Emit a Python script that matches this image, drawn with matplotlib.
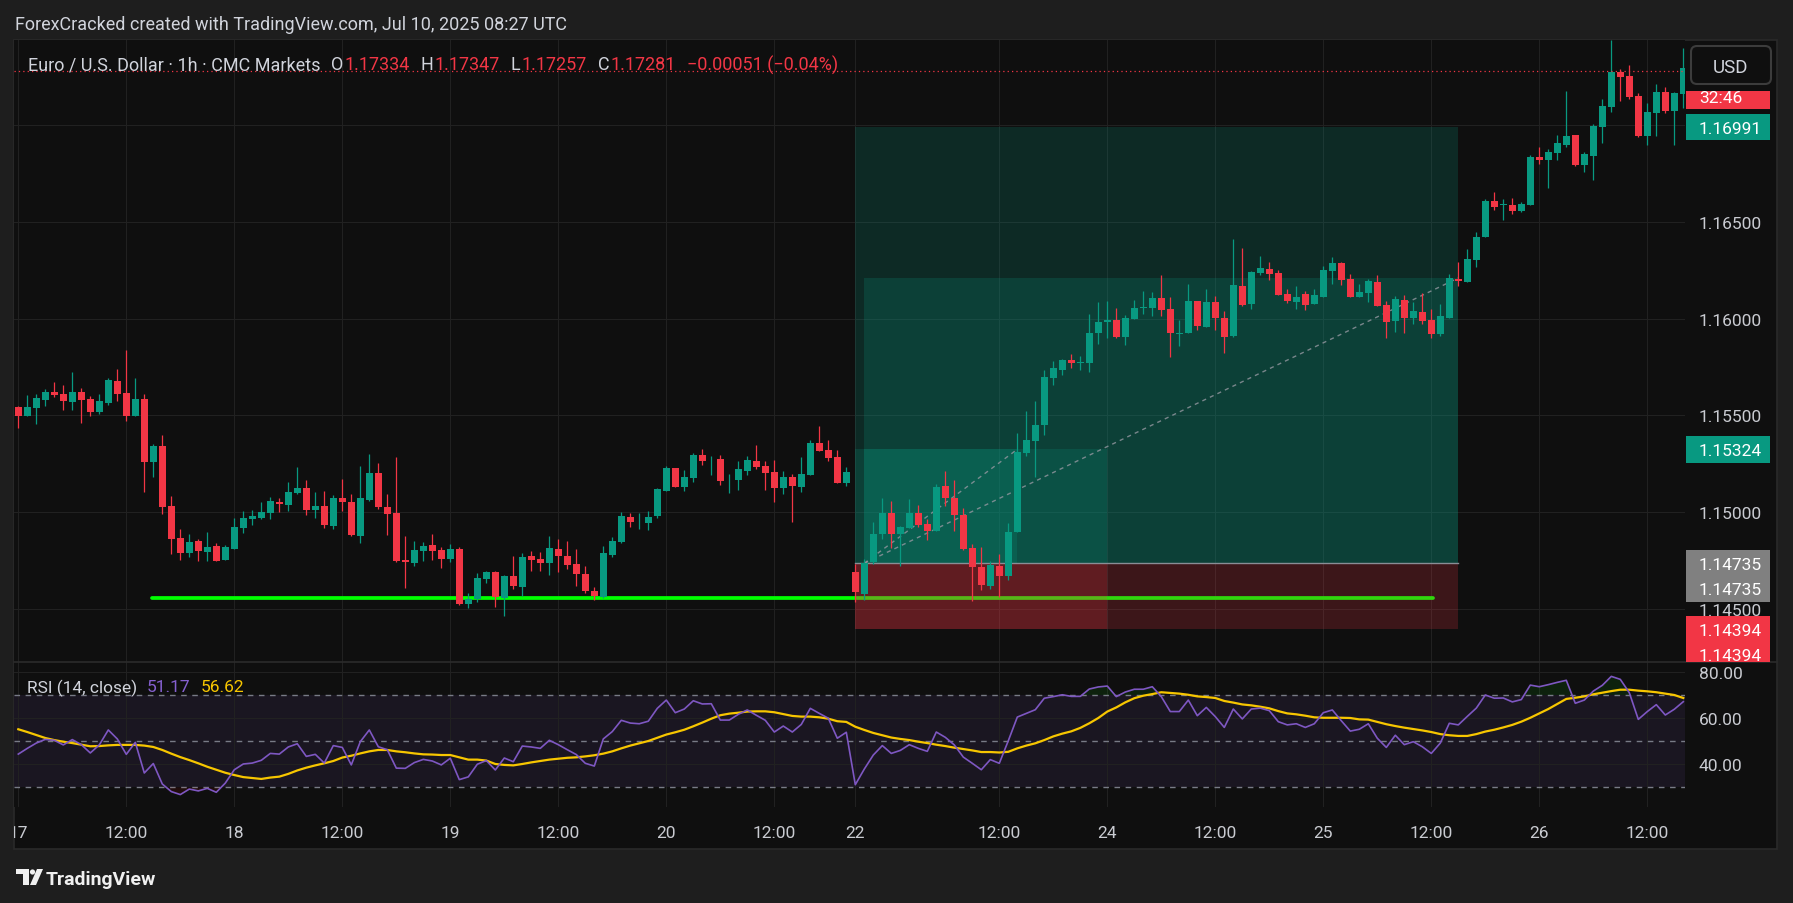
import numpy as np
import matplotlib
matplotlib.use("Agg")
import matplotlib.pyplot as plt
from matplotlib.patches import Rectangle, FancyBboxPatch, Polygon, Circle
from matplotlib.lines import Line2D
from matplotlib.transforms import Affine2D

plt.rcParams['font.family'] = ['Roboto', 'DejaVu Sans']

# ---------------- data (EURUSD 1h, CMC Markets) ----------------
opens = [
    1.15545, 1.15498, 1.15540, 1.15581, 1.15622, 1.15612, 1.15571, 1.15622, 1.15586, 1.15519,
    1.15566, 1.15679, 1.15617, 1.15498, 1.15586, 1.15260, 1.15343, 1.15033, 1.14867, 1.14790,
    1.14852, 1.14795, 1.14826, 1.14753, 1.14810, 1.14919, 1.14966, 1.14971, 1.14997, 1.15053,
    1.15038, 1.15100, 1.15126, 1.15012, 1.15033, 1.14929, 1.15074, 1.15053, 1.14878, 1.15064,
    1.15203, 1.15028, 1.14997, 1.14753, 1.14738, 1.14800, 1.14831, 1.14805, 1.14759, 1.14810,
    1.14526, 1.14552, 1.14655, 1.14691, 1.14557, 1.14671, 1.14614, 1.14774, 1.14759, 1.14738,
    1.14810, 1.14774, 1.14733, 1.14681, 1.14593, 1.14562, 1.14779, 1.14847, 1.14976, 1.14952,
    1.14945, 1.14981, 1.15110, 1.15229, 1.15131, 1.15178, 1.15297, 1.15272, 1.15276, 1.15164,
    1.15167, 1.15214, 1.15266, 1.15240, 1.15209, 1.15126, 1.15183, 1.15131, 1.15193, 1.15359,
    1.15322, 1.15286, 1.15152, 1.14691, 1.14577, 1.14744, 1.14887, 1.14995, 1.14887, 1.14919,
    1.14995, 1.14938, 1.14904, 1.15134, 1.15072, 1.14984, 1.14814, 1.14718, 1.14619, 1.14721,
    1.14671, 1.14894, 1.15307, 1.15369, 1.15451, 1.15695, 1.15736, 1.15786, 1.15771, 1.15768,
    1.15923, 1.15983, 1.15992, 1.15905, 1.15999, 1.16056, 1.16056, 1.16107, 1.16049, 1.15918,
    1.15923, 1.16091, 1.15959, 1.16087, 1.16003, 1.15911, 1.16169, 1.16078, 1.16238, 1.16256,
    1.16236, 1.16128, 1.16088, 1.16128, 1.16078, 1.16113, 1.16248, 1.16287, 1.16205, 1.16113,
    1.16132, 1.16189, 1.16069, 1.15988, 1.16096, 1.16003, 1.16034, 1.15993, 1.15920, 1.16005,
    1.16205, 1.16189, 1.16305, 1.16422, 1.16608, 1.16586, 1.16587, 1.16556, 1.16587, 1.16836,
    1.16822, 1.16858, 1.16898, 1.16949, 1.16794, 1.16841, 1.16991, 1.17094, 1.17275, 1.17254,
    1.17151, 1.16944, 1.17063, 1.17172, 1.17073, 1.17161,
]
highs = [
    1.15548, 1.15607, 1.15612, 1.15638, 1.15674, 1.15659, 1.15726, 1.15643, 1.15602, 1.15612,
    1.15695, 1.15741, 1.15840, 1.15695, 1.15612, 1.15353, 1.15400, 1.15084, 1.14914, 1.14888,
    1.14862, 1.14898, 1.14841, 1.14831, 1.14971, 1.15007, 1.15012, 1.15053, 1.15079, 1.15074,
    1.15157, 1.15234, 1.15167, 1.15105, 1.15110, 1.15090, 1.15172, 1.15095, 1.15240, 1.15302,
    1.15255, 1.15095, 1.15286, 1.14878, 1.14852, 1.14847, 1.14888, 1.14821, 1.14836, 1.14821,
    1.14583, 1.14686, 1.14697, 1.14697, 1.14676, 1.14774, 1.14790, 1.14800, 1.14795, 1.14878,
    1.14862, 1.14852, 1.14810, 1.14722, 1.14614, 1.14826, 1.14872, 1.15002, 1.14997, 1.14997,
    1.15007, 1.15126, 1.15240, 1.15229, 1.15219, 1.15307, 1.15328, 1.15291, 1.15297, 1.15198,
    1.15266, 1.15291, 1.15348, 1.15266, 1.15271, 1.15214, 1.15198, 1.15286, 1.15374, 1.15447,
    1.15374, 1.15322, 1.15234, 1.14732, 1.14759, 1.14949, 1.15073, 1.15057, 1.14928, 1.15068,
    1.15038, 1.14963, 1.15145, 1.15214, 1.15166, 1.15020, 1.14835, 1.14819, 1.14746, 1.14783,
    1.14944, 1.15408, 1.15522, 1.15574, 1.15734, 1.15780, 1.15791, 1.15816, 1.15807, 1.16024,
    1.16087, 1.16091, 1.16055, 1.16019, 1.16096, 1.16142, 1.16139, 1.16225, 1.16112, 1.15992,
    1.16179, 1.16091, 1.16153, 1.16117, 1.16039, 1.16411, 1.16365, 1.16247, 1.16324, 1.16293,
    1.16251, 1.16153, 1.16169, 1.16145, 1.16153, 1.16272, 1.16318, 1.16291, 1.16229, 1.16179,
    1.16205, 1.16225, 1.16091, 1.16117, 1.16122, 1.16084, 1.16132, 1.16050, 1.16075, 1.16231,
    1.16293, 1.16360, 1.16448, 1.16618, 1.16655, 1.16618, 1.16624, 1.16603, 1.16846, 1.16887,
    1.16877, 1.16949, 1.17177, 1.16949, 1.16861, 1.17006, 1.17135, 1.17441, 1.17291, 1.17311,
    1.17167, 1.17115, 1.17213, 1.17198, 1.17172, 1.17399,
]
lows = [
    1.15433, 1.15498, 1.15457, 1.15550, 1.15597, 1.15529, 1.15529, 1.15462, 1.15498, 1.15509,
    1.15555, 1.15576, 1.15472, 1.15498, 1.15105, 1.15183, 1.14991, 1.14784, 1.14753, 1.14769,
    1.14748, 1.14748, 1.14748, 1.14753, 1.14810, 1.14893, 1.14934, 1.14966, 1.14966, 1.15002,
    1.15007, 1.15095, 1.14986, 1.14971, 1.14919, 1.14914, 1.15007, 1.14878, 1.14841, 1.15059,
    1.15017, 1.14883, 1.14743, 1.14609, 1.14722, 1.14748, 1.14753, 1.14712, 1.14743, 1.14521,
    1.14505, 1.14536, 1.14634, 1.14510, 1.14464, 1.14603, 1.14567, 1.14697, 1.14697, 1.14676,
    1.14691, 1.14707, 1.14619, 1.14583, 1.14547, 1.14557, 1.14769, 1.14841, 1.14924, 1.14914,
    1.14909, 1.14971, 1.15110, 1.15131, 1.15110, 1.15157, 1.15245, 1.15193, 1.15141, 1.15100,
    1.15116, 1.15193, 1.15224, 1.15116, 1.15053, 1.15095, 1.14950, 1.15105, 1.15193, 1.15317,
    1.15266, 1.15152, 1.15136, 1.14533, 1.14545, 1.14732, 1.14861, 1.14812, 1.14723, 1.14919,
    1.14922, 1.14856, 1.14904, 1.15031, 1.14904, 1.14803, 1.14541, 1.14598, 1.14603, 1.14563,
    1.14650, 1.14894, 1.15287, 1.15183, 1.15400, 1.15659, 1.15706, 1.15747, 1.15736, 1.15725,
    1.15871, 1.15902, 1.15902, 1.15866, 1.15999, 1.16026, 1.16016, 1.16016, 1.15804, 1.15860,
    1.15923, 1.15943, 1.15959, 1.15943, 1.15820, 1.15907, 1.16065, 1.16051, 1.16225, 1.16197,
    1.16124, 1.16083, 1.16051, 1.16046, 1.16078, 1.16113, 1.16180, 1.16175, 1.16113, 1.16113,
    1.16084, 1.16067, 1.15901, 1.15932, 1.15927, 1.15972, 1.15972, 1.15900, 1.15910, 1.16005,
    1.16169, 1.16189, 1.16268, 1.16422, 1.16562, 1.16510, 1.16541, 1.16551, 1.16587, 1.16799,
    1.16675, 1.16822, 1.16887, 1.16789, 1.16758, 1.16717, 1.16908, 1.17068, 1.17125, 1.17135,
    1.16939, 1.16898, 1.16944, 1.17063, 1.16898, 1.17089,
]
closes = [
    1.15495, 1.15545, 1.15591, 1.15622, 1.15607, 1.15576, 1.15622, 1.15581, 1.15519, 1.15576,
    1.15684, 1.15612, 1.15498, 1.15586, 1.15260, 1.15343, 1.15028, 1.14862, 1.14790, 1.14847,
    1.14800, 1.14821, 1.14748, 1.14821, 1.14924, 1.14971, 1.14981, 1.15002, 1.15059, 1.15043,
    1.15105, 1.15126, 1.15012, 1.15033, 1.14934, 1.15074, 1.15053, 1.14883, 1.15074, 1.15203,
    1.15028, 1.14991, 1.14748, 1.14743, 1.14805, 1.14826, 1.14800, 1.14759, 1.14810, 1.14526,
    1.14552, 1.14660, 1.14691, 1.14562, 1.14671, 1.14619, 1.14769, 1.14753, 1.14738, 1.14816,
    1.14774, 1.14728, 1.14681, 1.14593, 1.14567, 1.14790, 1.14852, 1.14981, 1.14950, 1.14955,
    1.14976, 1.15121, 1.15229, 1.15131, 1.15183, 1.15297, 1.15266, 1.15276, 1.15162, 1.15167,
    1.15224, 1.15271, 1.15234, 1.15203, 1.15126, 1.15183, 1.15136, 1.15198, 1.15359, 1.15317,
    1.15281, 1.15152, 1.15209, 1.14584, 1.14737, 1.14887, 1.14995, 1.14887, 1.14922, 1.14995,
    1.14933, 1.14904, 1.15129, 1.15070, 1.14987, 1.14810, 1.14718, 1.14625, 1.14728, 1.14671,
    1.14897, 1.15310, 1.15373, 1.15449, 1.15699, 1.15745, 1.15786, 1.15768, 1.15775, 1.15927,
    1.15982, 1.15991, 1.15905, 1.16003, 1.16055, 1.16060, 1.16107, 1.16046, 1.15923, 1.15928,
    1.16091, 1.15962, 1.16087, 1.16005, 1.15907, 1.16174, 1.16071, 1.16241, 1.16261, 1.16233,
    1.16124, 1.16092, 1.16112, 1.16072, 1.16120, 1.16251, 1.16286, 1.16201, 1.16113, 1.16138,
    1.16196, 1.16067, 1.15984, 1.16101, 1.16005, 1.16039, 1.15988, 1.15920, 1.16013, 1.16210,
    1.16194, 1.16308, 1.16422, 1.16608, 1.16577, 1.16593, 1.16556, 1.16593, 1.16836, 1.16822,
    1.16861, 1.16908, 1.16944, 1.16794, 1.16851, 1.16996, 1.17099, 1.17275, 1.17249, 1.17146,
    1.16944, 1.17068, 1.17172, 1.17073, 1.17167, 1.17296,
]

rsi_values = [
    44.3, 46.8, 49.1, 50.7, 50.3, 48.3, 50.6, 48.4, 44.8, 48.3,
    54.8, 50.9, 44.2, 49.4, 36.1, 40.2, 31.3, 28.0, 26.7, 29.1,
    28.3, 29.4, 27.7, 31.7, 37.5, 40.0, 40.4, 41.6, 44.6, 44.3,
    47.4, 48.8, 43.3, 44.2, 40.4, 48.0, 47.2, 39.6, 49.7, 54.8,
    47.5, 46.2, 38.2, 38.1, 40.6, 42.0, 41.3, 39.6, 42.5, 33.2,
    34.4, 39.9, 41.5, 37.4, 42.6, 41.0, 47.8, 47.4, 46.8, 50.3,
    48.4, 46.2, 44.1, 40.3, 39.1, 50.9, 54.1, 59.0, 57.8, 57.5,
    58.6, 64.2, 67.8, 62.3, 63.9, 67.5, 66.1, 66.2, 59.1, 59.1,
    61.6, 63.5, 61.2, 59.0, 53.9, 56.5, 53.9, 57.2, 64.2, 62.0,
    59.9, 51.2, 53.8, 31.0, 37.8, 43.9, 48.0, 44.6, 45.9, 48.4,
    46.8, 45.5, 53.9, 51.6, 48.3, 43.0, 40.3, 37.5, 41.9, 40.3,
    50.1, 60.4, 62.0, 63.6, 68.6, 69.3, 70.1, 69.4, 69.4, 72.6,
    73.5, 73.9, 69.3, 71.3, 72.5, 72.5, 73.6, 69.3, 62.8, 62.8,
    67.8, 61.0, 64.6, 60.6, 55.9, 63.9, 59.6, 63.9, 64.3, 63.2,
    58.4, 57.0, 57.5, 55.9, 57.5, 62.3, 63.5, 58.8, 54.3, 55.1,
    57.5, 51.2, 47.2, 52.5, 48.4, 49.7, 47.5, 44.6, 49.1, 57.7,
    57.0, 60.7, 64.3, 70.0, 68.6, 68.7, 67.0, 68.0, 74.3, 73.6,
    74.5, 75.5, 76.4, 66.4, 67.8, 71.7, 74.2, 78.1, 76.8, 71.0,
    59.4, 62.8, 65.8, 61.3, 63.8, 67.1,
]
rsi_ma = [
    55.1, 53.9, 52.6, 51.3, 50.4, 49.7, 49.1, 48.4, 47.7, 47.8,
    48.1, 48.3, 48.3, 48.3, 48.0, 47.4, 46.1, 44.5, 43.0, 41.7,
    40.3, 38.8, 37.5, 36.2, 35.2, 34.3, 33.9, 33.5, 34.1, 34.5,
    35.7, 37.2, 38.4, 39.4, 40.3, 41.3, 42.8, 43.6, 44.6, 45.5,
    46.1, 46.1, 45.5, 45.1, 44.6, 44.2, 44.1, 43.9, 43.9, 42.9,
    41.9, 41.9, 41.5, 40.0, 39.6, 39.4, 40.0, 40.7, 41.3, 41.9,
    42.3, 42.7, 42.9, 43.3, 43.8, 44.5, 45.5, 46.8, 48.0, 49.0,
    50.0, 51.4, 52.8, 53.8, 54.9, 56.4, 58.0, 59.7, 61.2, 61.9,
    62.3, 62.8, 62.9, 62.9, 62.5, 61.7, 60.9, 60.6, 60.6, 60.3,
    59.7, 58.6, 58.3, 56.2, 54.8, 53.5, 52.5, 51.5, 50.9, 50.4,
    49.7, 49.1, 48.4, 47.8, 47.1, 46.5, 45.9, 45.2, 45.2, 45.0,
    45.3, 46.8, 48.0, 49.0, 50.4, 52.0, 53.2, 54.2, 55.7, 57.7,
    60.0, 62.8, 64.6, 66.8, 68.6, 69.7, 70.4, 71.2, 70.9, 70.6,
    70.1, 69.4, 69.1, 68.7, 67.4, 66.7, 65.9, 65.5, 64.9, 64.2,
    63.0, 62.0, 61.6, 61.0, 60.3, 60.1, 60.1, 60.1, 60.0, 59.4,
    59.3, 58.3, 57.3, 56.5, 55.8, 55.2, 54.6, 53.9, 53.0, 52.5,
    52.2, 52.2, 53.0, 54.1, 54.9, 55.9, 57.0, 58.4, 60.1, 62.0,
    63.9, 66.1, 68.3, 68.8, 69.4, 70.3, 71.0, 71.7, 72.3, 72.3,
    71.9, 71.6, 71.2, 70.6, 70.0, 68.7,
]

# time axis: candle index of each label
time_tick_idx = [0, 12, 24, 36, 48, 60, 72, 84, 93, 109, 121, 133, 145, 157, 169, 181]
time_tick_labels = ['17', '12:00', '18', '12:00', '19', '12:00', '20', '12:00',
                    '22', '12:00', '24', '12:00', '25', '12:00', '26', '12:00']
price_ticks = [1.145, 1.150, 1.155, 1.160, 1.165, 1.170]
rsi_ticks = [40, 60, 80]

# long position tools (entry / stop / targets) and the drawn support line
entry_price = 1.14735
stop_price = 1.14394
target_big = 1.16991
target_small = 1.15324
big_start, big_end = 93, 160
small_end = 121
small_hit_bar = 111
big_last_close = closes[big_end - 1]
support_price = 1.14555
support_start, support_end = 14.9, 157.2
last_price = 1.17281

# ---------------- style ----------------
UP = '#089981'
DOWN = '#f23645'
BG = '#0f0f0f'
OUTER = '#1e1e1e'
GRID = '#212121'
TXT = '#d1d4dc'
AXTXT = '#c9cbd1'
FS = 12.5
FS_HEAD = 13

W, H = 1793, 904
PANE_L, PANE_R, FRAME_R = 14, 1685, 1777
MAIN_T, MAIN_B, RSI_B, FRAME_B = 41, 663, 808, 850
X0, STEP = 18.3, 9.0  # pixel position of first candle, pixels per candle

fig = plt.figure(figsize=(W / 100, H / 100), dpi=100, facecolor=OUTER)
pix = Affine2D().scale(1, -1).translate(0, H)  # top-left pixel coords


def rect_for(top, bottom):
    return [PANE_L / W, 1 - bottom / H, (PANE_R - PANE_L) / W, (bottom - top) / H]


fig.add_artist(Rectangle((PANE_L, MAIN_T), FRAME_R - PANE_L, FRAME_B - MAIN_T, transform=pix,
                         facecolor=BG, edgecolor='#2a2a2a', lw=1.2, zorder=-10))

xmin = (PANE_L - X0) / STEP
xmax = (PANE_R - X0) / STEP

# ---------------- main price pane ----------------
ax = fig.add_axes(rect_for(MAIN_T, MAIN_B))
ax.set_facecolor(BG)
ax.set_xlim(xmin, xmax)
ax.set_ylim(1.142244, 1.174405)
for s in ax.spines.values():
    s.set_visible(False)
ax.set_xticks(time_tick_idx)
ax.set_yticks(price_ticks)
ax.set_yticklabels([f'{p:.5f}' for p in price_ticks])
ax.yaxis.tick_right()
ax.tick_params(axis='x', length=0, labelbottom=False)
ax.tick_params(axis='y', length=0, pad=10, labelsize=FS, labelcolor=AXTXT)
ax.grid(True, color=GRID, lw=0.8, zorder=0)
ax.set_axisbelow(True)

x = np.arange(len(closes))
o = np.array(opens)
c = np.array(closes)
up = c >= o
cols = np.where(up, UP, DOWN)

# support line
ax.plot([support_start, support_end], [support_price, support_price], color='#00ff00',
        lw=2.7, solid_capstyle='round', zorder=1.5)

# position tools
def zone(x0, x1, y0, y1, color):
    ax.add_patch(Rectangle((x0, y0), x1 - x0, y1 - y0, facecolor=color, alpha=0.2, lw=0, zorder=2))

zone(big_start, big_end, entry_price, target_big, UP)
zone(big_start, big_end, stop_price, entry_price, DOWN)
zone(big_start + 1, big_end, entry_price, big_last_close, UP)
zone(big_start, small_end, entry_price, target_small, UP)
zone(big_start, small_end, stop_price, entry_price, DOWN)
zone(big_start + 1, small_hit_bar, entry_price, target_small, UP)
ax.plot([big_start, big_end], [entry_price, entry_price], color='#8a8d95', lw=1.0, zorder=2.6)
ax.plot([big_start + 1, big_end], [entry_price, big_last_close], color='#9598a1', lw=1.0,
        ls=(0, (3, 3)), alpha=0.8, zorder=2.6)
ax.plot([big_start + 1, small_hit_bar], [entry_price, target_small], color='#9598a1', lw=1.0,
        ls=(0, (3, 3)), alpha=0.8, zorder=2.6)

# candles
ax.vlines(x, lows, highs, colors=cols, lw=0.9, zorder=3)
body_low = np.minimum(o, c)
body_h = np.maximum(np.abs(c - o), 0.00003)
ax.bar(x, body_h, 0.78, body_low, color=cols, lw=0, zorder=4)

# last price line
ax.axhline(last_price, color=DOWN, lw=0.9, ls=(0, (1, 2.5)), zorder=5)

# ---------------- RSI pane ----------------
rax = fig.add_axes(rect_for(MAIN_B, RSI_B))
rax.set_facecolor(BG)
rax.set_xlim(xmin, xmax)
rax.set_ylim(21.3, 84.35)
for s in rax.spines.values():
    s.set_visible(False)
rax.set_xticks(time_tick_idx)
rax.set_yticks(rsi_ticks)
rax.set_yticklabels([f'{v:.2f}' for v in rsi_ticks])
rax.yaxis.tick_right()
rax.tick_params(axis='x', length=0, labelbottom=False)
rax.tick_params(axis='y', length=0, pad=10, labelsize=FS, labelcolor=AXTXT)
rax.grid(True, color=GRID, lw=0.8, zorder=0)
rax.set_axisbelow(True)
rax.axhspan(30, 70, color='#7e57c2', alpha=0.1, lw=0, zorder=0.5)
for lvl in (70, 50, 30):
    rax.axhline(lvl, color='#787b86', lw=1.0, ls=(0, (4, 4)), zorder=1)
r = np.array(rsi_values)
rax.fill_between(x, 70, r, where=r > 70, interpolate=True, color='#00ff00', alpha=0.08, lw=0)
rax.fill_between(x, 30, r, where=r < 30, interpolate=True, color='#ff0000', alpha=0.08, lw=0)
rax.plot(x, rsi_ma, color='#f7c600', lw=1.6, zorder=3)
rax.plot(x, r, color='#7e57c2', lw=1.2, zorder=4)

# ---------------- time axis strip ----------------
tax = fig.add_axes(rect_for(RSI_B, FRAME_B))
tax.set_xlim(xmin, xmax)
tax.set_ylim(0, 1)
tax.axis('off')
for idx, lab in zip(time_tick_idx, time_tick_labels):
    tax.text(idx, 0.43, lab, ha='center', va='center_baseline', color=AXTXT, fontsize=FS,
             clip_on=True)

fig.add_artist(Line2D([PANE_L, FRAME_R], [MAIN_B, MAIN_B], transform=pix, color='#2b2b2b', lw=1.2))

# ---------------- price tags ----------------
TAG_L, TAG_R, TAG_H, ROW = 1686, 1770, 26.7, 25


def ypix(axis, v):
    return H - axis.transData.transform((0, v))[1]


def tag(v, color, texts, bottom_clip=None, first_row=0):
    yc = ypix(ax, v)
    top = yc - TAG_H / 2
    bot = top + TAG_H + ROW * (len(texts) + first_row - 1)
    if bottom_clip is not None:
        bot = min(bot, bottom_clip)
    fig.add_artist(Rectangle((TAG_L, top), TAG_R - TAG_L, bot - top, transform=pix,
                             facecolor=color, lw=0, zorder=10))
    for k, t in enumerate(texts):
        fig.text(1699 / W, 1 - (yc + (k + first_row) * ROW) / H, t, color='white', fontsize=FS,
                 va='center_baseline', ha='left', zorder=11)


tag(target_big, UP, [f'{target_big:.5f}'])
tag(target_small, UP, [f'{target_small:.5f}'])
tag(entry_price, '#808080', [f'{entry_price:.5f}', f'{entry_price:.5f}'])
tag(stop_price, DOWN, [f'{stop_price:.5f}', f'{stop_price:.5f}'], bottom_clip=MAIN_B)
# last price tag: its price row sits under the currency button, only the countdown shows
tag(last_price, DOWN, ['32:46'], first_row=1)

# currency button over the last price tag (hides the top of the countdown)
fig.add_artist(Rectangle((1686, 42), 90, 50, transform=pix, facecolor=BG, lw=0, zorder=12))
fig.add_artist(FancyBboxPatch((1691, 47), 80, 38, boxstyle='round,pad=0,rounding_size=6',
                              transform=pix, facecolor=BG, edgecolor='#3c3c3c', lw=1.5, zorder=13))
fig.text(1731 / W, 1 - 66 / H, 'USD', color=TXT, fontsize=13.5, ha='center', va='center_baseline',
         zorder=14)

# ---------------- texts ----------------
fig.text(15 / W, 1 - 23 / H, 'ForexCracked created with TradingView.com, Jul 10, 2025 08:27 UTC',
         color=TXT, fontsize=FS_HEAD, va='center_baseline', ha='left')

renderer = fig.canvas.get_renderer()


def chain(x_px, y_px, parts, size):
    xx = x_px
    for s, col, gap in parts:
        t = fig.text(xx / W, 1 - y_px / H, s, color=col, fontsize=size, va='center_baseline', ha='left')
        xx += t.get_window_extent(renderer).width + gap


chain(27.6, 63, [
    ('Euro / U.S. Dollar · 1h · CMC Markets', TXT, 11),
    ('O', TXT, 1), ('1.17334', DOWN, 11),
    ('H', TXT, 1), ('1.17347', DOWN, 11),
    ('L', TXT, 1), ('1.17257', DOWN, 11),
    ('C', TXT, 1), ('1.17281', DOWN, 11),
    ('\u22120.00051 (\u22120.04%)', DOWN, 0),
], FS_HEAD)
chain(27, 686, [
    ('RSI (14, close)', TXT, 10),
    ('51.17', '#8560d0', 10),
    ('56.62', '#f7c600', 0),
], FS)

# TradingView logo + wordmark
fig.add_artist(Polygon([(16, 870), (29, 870), (29, 886), (23, 886), (23, 875), (16, 875)],
                       closed=True, transform=pix, facecolor='#f0f0f0', lw=0))
fig.add_artist(Circle((32.5, 873), 2.6, transform=pix, facecolor='#f0f0f0', lw=0))
fig.add_artist(Polygon([(30, 886), (36, 886), (43, 870), (37, 870)],
                       closed=True, transform=pix, facecolor='#f0f0f0', lw=0))
fig.text(46 / W, 1 - 878 / H, 'TradingView', color='#f0f0f0', fontsize=14, fontweight='bold',
         va='center_baseline', ha='left')

fig.savefig('out.png', dpi=100, facecolor=OUTER)
